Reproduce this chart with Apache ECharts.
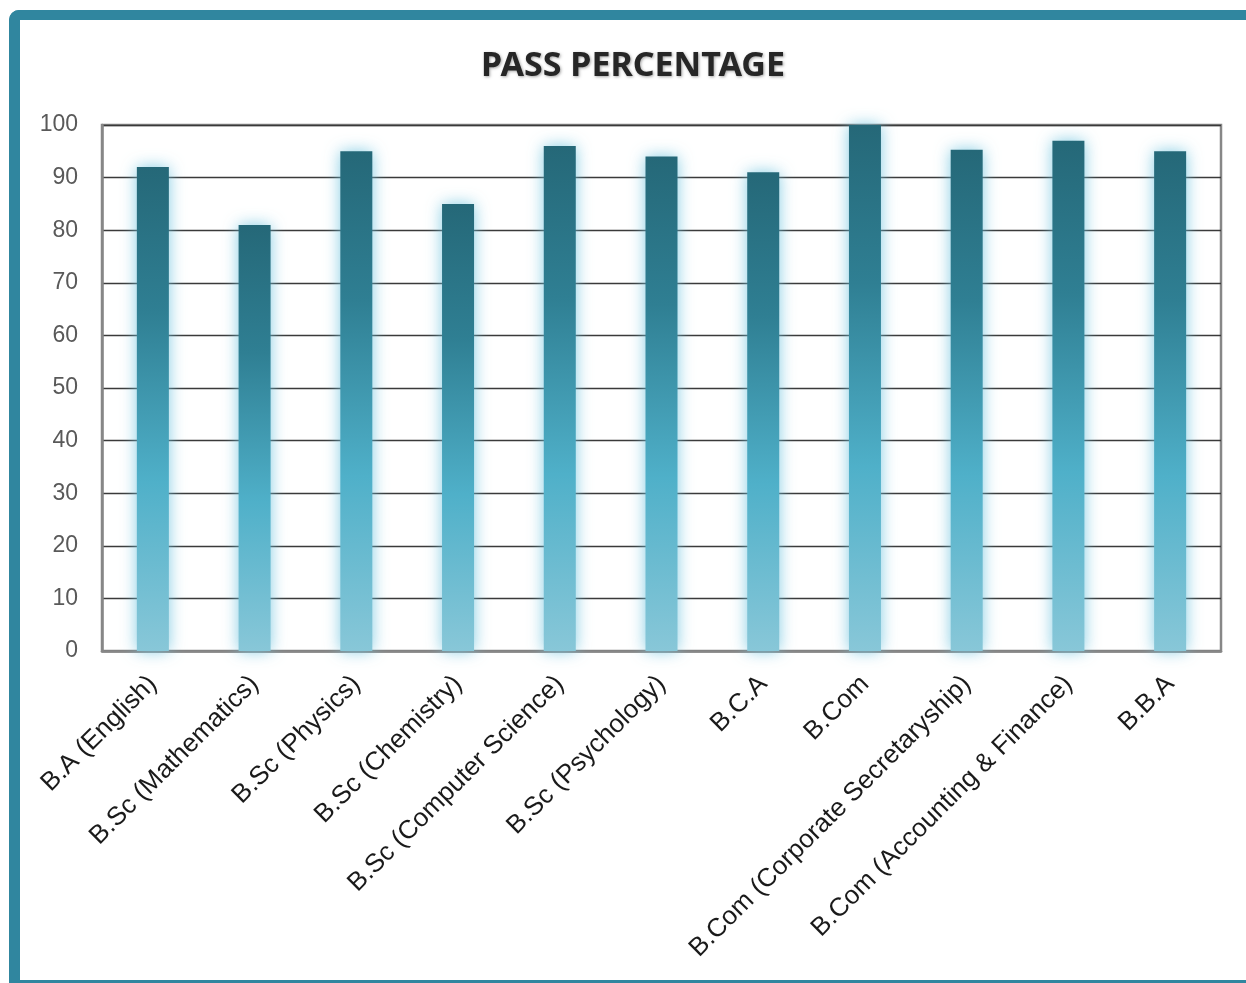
<!DOCTYPE html>
<html>
<head>
<meta charset="utf-8">
<script src="https://cdn.jsdelivr.net/npm/echarts@6/dist/echarts.min.js"></script>
<style>
  html, body { margin: 0; padding: 0; background: #fff; width: 1246px; height: 983px; overflow: hidden; }
  #frame { position: absolute; left: 9px; top: 10px; width: 1300px; height: 973px; box-sizing: border-box;
    border-left: 11px solid #30869f; border-top: 10px solid #30869f; border-bottom: 3px solid #30869f;
    border-top-left-radius: 10px; }
  #chart { position: absolute; left: 0; top: 0; width: 1246px; height: 983px; }
</style>
</head>
<body>
<div id="frame"></div>
<div id="chart"></div>
<script>
const categories = [
  'B.A (English)', 'B.Sc (Mathematics)', 'B.Sc (Physics)', 'B.Sc (Chemistry)',
  'B.Sc (Computer Science)', 'B.Sc (Psychology)', 'B.C.A', 'B.Com',
  'B.Com (Corporate Secretaryship)', 'B.Com (Accounting & Finance)', 'B.B.A'
];
const passPercentage = [92, 81, 95, 85, 96, 94, 91, 100, 95.3, 97, 95];
const yTicks = [0, 10, 20, 30, 40, 50, 60, 70, 80, 90, 100];

const chart = echarts.init(document.getElementById('chart'));
chart.setOption({
  animation: false,
  title: {
    text: 'PASS PERCENTAGE',
    left: 628, top: 44, textAlign: 'center',
    textStyle: {
      fontFamily: '"Noto Sans", sans-serif',
      fontWeight: 'bold', fontSize: 34, color: '#262626',
      textShadowColor: 'rgba(0,0,0,0.35)', textShadowBlur: 3, textShadowOffsetX: 1, textShadowOffsetY: 1
    }
  },
  grid: {
    left: 102, right: 25, top: 125, bottom: 332,
    show: true, borderColor: '#878787', borderWidth: 2.5, backgroundColor: 'transparent'
  },
  xAxis: {
    type: 'category',
    data: categories,
    axisLine: { show: true, lineStyle: { color: '#878787', width: 2.5 } },
    axisTick: { show: false },
    axisLabel: {
      rotate: 45, margin: 29, interval: 0,
      fontFamily: '"Liberation Sans", Arial, sans-serif', fontSize: 26, color: '#1a1a1a'
    }
  },
  yAxis: {
    type: 'value', min: yTicks[0], max: yTicks[yTicks.length - 1], interval: 10,
    axisLine: { show: true, lineStyle: { color: '#878787', width: 2.5 } },
    axisTick: { show: false },
    splitLine: { lineStyle: { color: '#3a3a3a', width: 1.3 } },
    axisLabel: {
      margin: 24, fontFamily: '"Liberation Sans", Arial, sans-serif', fontSize: 23, color: '#595959'
    }
  },
  series: [{
    type: 'bar',
    data: passPercentage,
    barWidth: 32,
    itemStyle: {
      color: new echarts.graphic.LinearGradient(0, 0, 0, 1, [
        { offset: 0, color: '#256878' },
        { offset: 0.3, color: '#2f7f93' },
        { offset: 0.65, color: '#4fb0c9' },
        { offset: 1, color: '#88c7d8' }
      ]),
      shadowColor: 'rgba(110,195,222,0.85)', shadowBlur: 16
    }
  }]
});
</script>
</body>
</html>
